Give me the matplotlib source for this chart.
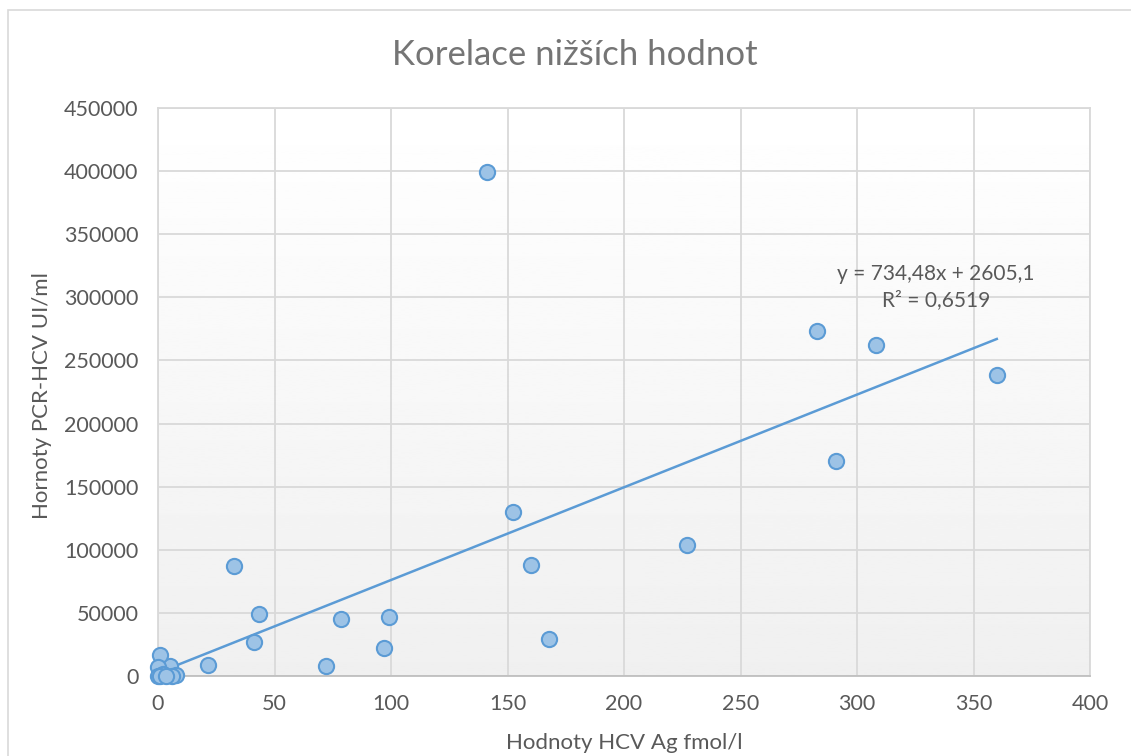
import matplotlib
matplotlib.use('Agg')
import matplotlib.pyplot as plt
from matplotlib.patches import Rectangle
import numpy as np

plt.rcParams['font.family'] = ['Lato', 'DejaVu Sans']

# data
hcv_ag = [141, 152.4, 160, 168, 227, 283, 308, 291, 360,
          32.5, 43.5, 41, 78.5, 99, 97, 72, 21.5, 5.2,
          0.9, 0.2, 0, 2, 7.7, 6, 1, 3.5]
pcr_hcv = [399000, 130000, 88000, 29500, 103800, 273500, 262500, 170000, 238500,
           87200, 49500, 27000, 45200, 46500, 22500, 8000, 8700, 8000,
           16800, 6800, 0, 1500, 600, 100, 100, 300]
slope = 734.48
intercept = 2605.1
r2 = 0.6519

title = 'Korelace nižších hodnot'
xlabel = 'Hodnoty HCV Ag fmol/l'
ylabel = 'Hornoty PCR-HCV UI/ml'

grey = '#595959'
blue = '#5b9bd5'
W, H = 1131, 756

fig = plt.figure(figsize=(W / 100, H / 100), dpi=100)
fig.patches.append(Rectangle((8 / W, -0.1), 1.2, 1 - 10 / H + 0.1, transform=fig.transFigure,
                             fill=False, ec='#d9d9d9', lw=1.2))
ax = fig.add_axes([158 / W, 1 - 676 / H, (1090 - 158) / W, (676 - 108) / H])

# gradient background of the plot area
grad = np.linspace(1.0, 0.94, 256).reshape(-1, 1)
ax.imshow(grad, cmap='gray', vmin=0, vmax=1, aspect='auto',
          extent=[0, 400, 0, 450000], origin='upper', zorder=0)

ax.set_xlim(0, 400)
ax.set_ylim(0, 450000)
ax.set_xticks(np.arange(0, 401, 50))
ax.set_yticks(np.arange(0, 450001, 50000))
ax.grid(True, color='#d9d9d9', lw=1.3, zorder=1)
ax.set_axisbelow(True)
for s in ax.spines.values():
    s.set_color('#d9d9d9')
    s.set_linewidth(1.3)
ax.spines['bottom'].set_color('#bfbfbf')
ax.tick_params(length=0, colors=grey, labelsize=15.5)
ax.tick_params(axis='y', pad=14)
ax.tick_params(axis='x', pad=13)

xs = np.array([min(hcv_ag), max(hcv_ag)])
ax.plot(xs, slope * xs + intercept, color=blue, lw=1.8, zorder=2)
ax.scatter(hcv_ag, pcr_hcv, s=120, facecolor='#9dc3e6', edgecolor=blue, lw=1.5,
           zorder=3, clip_on=False)

ax.text(334, 318500, 'y = 734,48x + 2605,1', ha='center', va='center', fontsize=15, color=grey, zorder=4)
ax.text(334, 297500, f'R² = {r2:.4f}'.replace('.', ','), ha='center', va='center',
        fontsize=15, color=grey, zorder=4)

fig.text(575 / W, 1 - 55 / H, title, ha='center', va='center', fontsize=25, color='#757575')
fig.text(624 / W, 1 - 743 / H, xlabel, ha='center', va='center', fontsize=16, color=grey)
fig.text(42 / W, 1 - 396 / H, ylabel, ha='center', va='center', rotation=90, fontsize=16, color=grey)

plt.savefig('out.png', dpi=100)
plt.close()
